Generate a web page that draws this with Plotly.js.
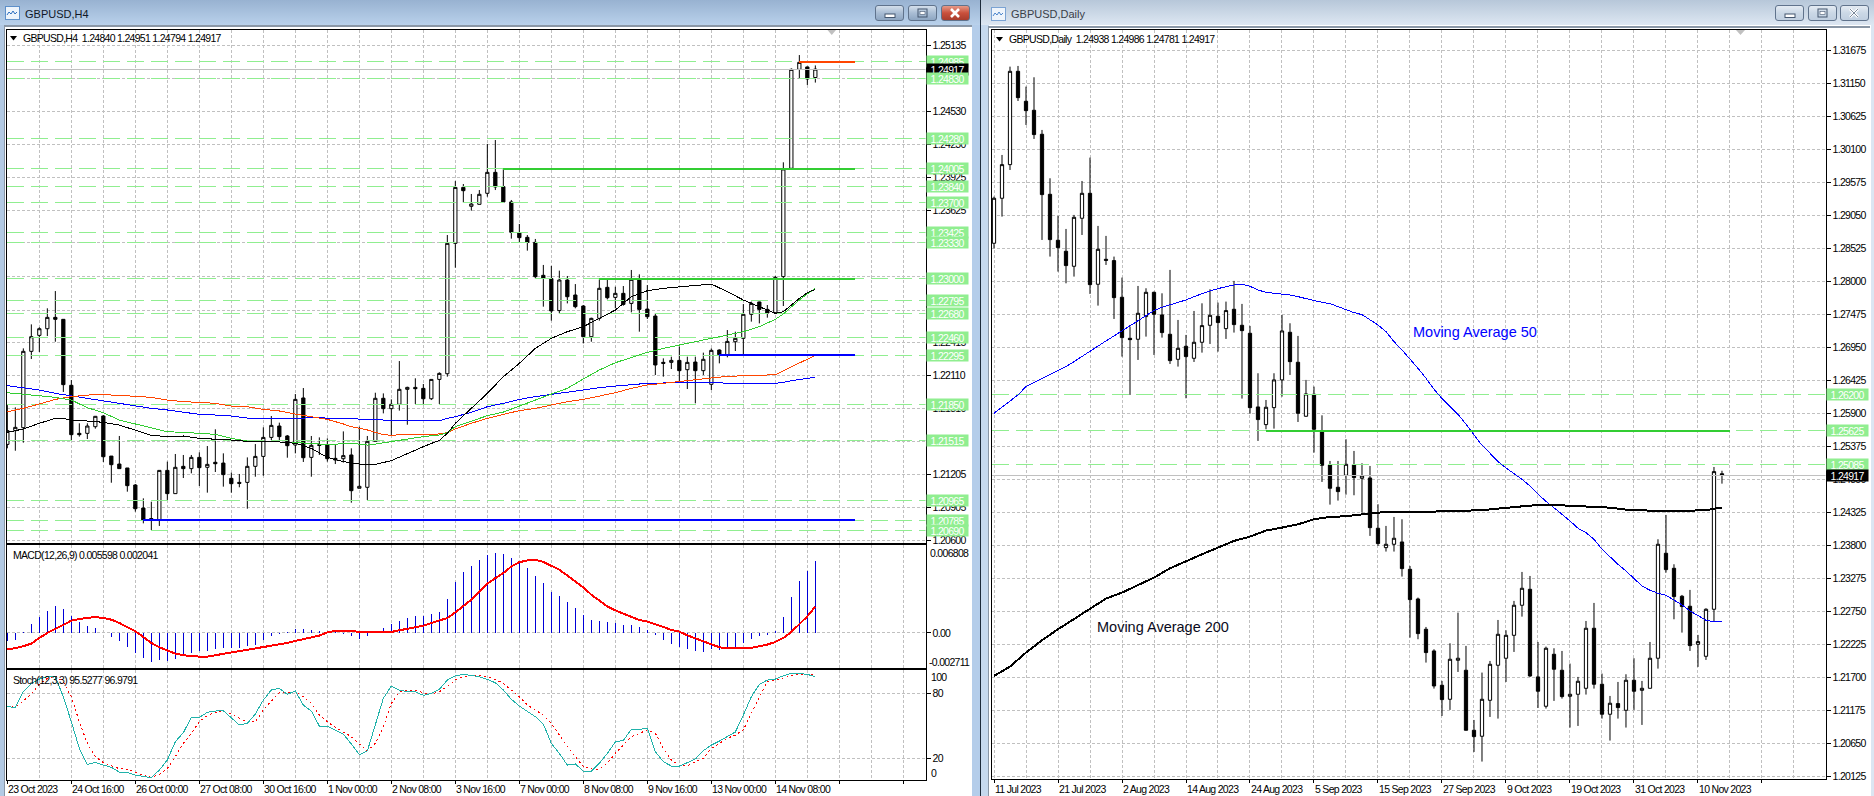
<!DOCTYPE html>
<html><head><meta charset="utf-8">
<script src="https://cdn.plot.ly/plotly-3.0.1.min.js"></script>
<style>
html,body{margin:0;padding:0;background:#fff;width:1874px;height:796px;overflow:hidden}
.c{position:absolute}
#plot{position:absolute;left:0;top:0;width:1874px;height:796px}
#plot .js-line{shape-rendering:crispEdges}
text[style*="font-size: 10.5px"]{letter-spacing:-0.7px}
.btn{position:absolute;top:5px;width:29px;height:16px;border:1px solid #60738c;border-radius:3px;box-sizing:border-box;background:linear-gradient(#d4dfeb,#a9bdd4 50%,#8ea6c2)}
.btn.x{background:linear-gradient(#e69a88,#c9503c 50%,#a83c2c)}
.btn.pale{background:linear-gradient(#e4ebf3,#cbd8e6 50%,#c0cfe0)}
.btn svg{position:absolute;left:0;top:0}
</style></head><body>
<div class="c" style="left:0;top:0;width:980px;height:25px;background:linear-gradient(#98b2d1,#b9d1eb)"></div>
<div class="c" style="left:980px;top:0;width:1px;height:796px;background:#1c2a3a"></div>
<div class="c" style="left:981px;top:0;width:893px;height:25px;background:linear-gradient(#b7c7d9,#dde7f2)"></div>
<div class="c" style="left:0;top:25px;width:972px;height:2px;background:#8a97a6"></div>
<div class="c" style="left:989px;top:26px;width:881px;height:2px;background:#8a97a6"></div>
<div class="c" style="left:0;top:25px;width:4px;height:771px;background:#b3cae4"></div>
<div class="c" style="left:4px;top:25px;width:1px;height:771px;background:#8a97a6"></div>
<div class="c" style="left:972px;top:25px;width:8px;height:771px;background:#b4cdea"></div>
<div class="c" style="left:981px;top:25px;width:8px;height:771px;background:#c6d9ee"></div>
<div class="c" style="left:988px;top:26px;width:1px;height:770px;background:#8a97a6"></div>
<div class="c" style="left:1871px;top:25px;width:3px;height:771px;background:#dbe6f2"></div>
<svg class="c" style="left:5px;top:6px" width="15" height="14"><rect x=".5" y=".5" width="14" height="13" fill="#eef4fb" stroke="#5d8fc9"/><path d="M2 9l2-3 2 2 2-3 2 3 2-2" stroke="#2d6fc0" fill="none"/></svg>
<svg class="c" style="left:991px;top:7px" width="15" height="14"><rect x=".5" y=".5" width="14" height="13" fill="#eef4fb" stroke="#7ba3d3"/><path d="M2 9l2-3 2 2 2-3 2 3 2-2" stroke="#4d86cc" fill="none"/></svg>
<div class="btn" style="left:875px"><svg width="27" height="14"><rect x="9" y="8" width="10" height="3.5" fill="#fff" stroke="#44566e"/></svg></div>
<div class="btn" style="left:908px"><svg width="27" height="14"><rect x="9" y="3" width="9" height="8" fill="none" stroke="#44566e"/><rect x="11" y="5.5" width="5" height="3" fill="#fff" stroke="#44566e" stroke-width=".6"/></svg></div>
<div class="btn x" style="left:941px"><svg width="27" height="14"><path d="M9 3l8 8M17 3l-8 8" stroke="#fff" stroke-width="2.6"/></svg></div>
<div class="btn pale" style="left:1775px"><svg width="27" height="14"><rect x="9" y="8" width="10" height="3.5" fill="#fff" stroke="#44566e"/></svg></div>
<div class="btn pale" style="left:1808px"><svg width="27" height="14"><rect x="9" y="3" width="9" height="8" fill="none" stroke="#44566e"/><rect x="11" y="5.5" width="5" height="3" fill="#fff" stroke="#44566e" stroke-width=".6"/></svg></div>
<div class="btn pale" style="left:1840px"><svg width="27" height="14"><path d="M9 3l8 8M17 3l-8 8" stroke="#fff" stroke-width="2.6"/><path d="M9 3l8 8M17 3l-8 8" stroke="#44566e" stroke-width=".7"/></svg></div>
<div id="plot"></div>
<script>
// ---------- H4 candles ----------
const h4Open=[1.21481,1.21607,1.21634,1.22333,1.22479,1.22540,1.22644,1.22626,1.22022,1.21582,
1.21582,1.21643,1.21741,1.21374,1.21301,1.21265,1.21109,1.20898,1.20795,1.20789,
1.21243,1.21030,1.21280,1.21259,1.21362,1.21271,1.21317,1.21310,1.21170,1.21133,
1.21133,1.21280,1.21371,1.21545,1.21649,1.21558,1.21475,1.21906,1.21362,1.21478,
1.21475,1.21353,1.21350,1.21384,1.21079,1.21088,1.21509,1.21903,1.21808,1.21848,
1.21985,1.22003,1.21994,1.21899,1.22076,1.22128,1.23322,1.23834,1.23661,1.23679,
1.23780,1.23972,1.23841,1.23701,1.23417,1.23377,1.23331,1.23029,1.22999,1.22706,
1.22986,1.22849,1.22748,1.22467,1.22635,1.22919,1.22827,1.22864,1.22772,1.22986,
1.22720,1.22656,1.22232,1.22232,1.22250,1.22165,1.22235,1.22156,1.22031,1.22345,
1.22302,1.22421,1.22452,1.22672,1.22785,1.22717,1.22687,1.23017,1.24009,1.24915,
1.24937,1.24840];
const h4High=[1.21841,1.21820,1.22360,1.22580,1.22553,1.22727,1.22885,1.22629,1.22070,1.21674,
1.21674,1.21741,1.21750,1.21374,1.21558,1.21265,1.21118,1.20987,1.20956,1.21243,
1.21323,1.21393,1.21384,1.21384,1.21408,1.21466,1.21619,1.21399,1.21222,1.21210,
1.21362,1.21484,1.21637,1.21741,1.21680,1.21567,1.21942,1.21997,1.21558,1.21545,
1.21536,1.21475,1.21600,1.21445,1.21643,1.21558,1.21954,1.21948,1.21893,1.22244,
1.22009,1.22086,1.22034,1.22076,1.22141,1.23398,1.23892,1.23865,1.23774,1.23810,
1.24232,1.24268,1.24003,1.23719,1.23499,1.23398,1.23362,1.23124,1.23115,1.23072,
1.23023,1.22949,1.22757,1.22641,1.22992,1.22986,1.22925,1.22931,1.23078,1.23038,
1.22940,1.22681,1.22269,1.22284,1.22376,1.22284,1.22284,1.22321,1.22360,1.22351,
1.22528,1.22513,1.22766,1.22788,1.22788,1.22757,1.23023,1.24064,1.24924,1.25046,
1.24940,1.24951];
const h4Low=[1.21445,1.21423,1.21497,1.22263,1.22327,1.22473,1.22421,1.21961,1.21521,1.21552,
1.21530,1.21625,1.21320,1.21130,1.21259,1.21048,1.20865,1.20758,1.20697,1.20734,
1.20972,1.21030,1.21173,1.21216,1.21100,1.21039,1.21228,1.21094,1.21039,1.21088,
1.20892,1.21185,1.21194,1.21521,1.21506,1.21359,1.21399,1.21320,1.21185,1.21384,
1.21323,1.21301,1.21314,1.20947,1.21079,1.20972,1.21509,1.21765,1.21567,1.21790,
1.21661,1.21851,1.21841,1.21887,1.21851,1.22101,1.23099,1.23697,1.23621,1.23679,
1.23749,1.23810,1.23701,1.23365,1.23334,1.23255,1.23002,1.22742,1.22614,1.22681,
1.22772,1.22727,1.22406,1.22421,1.22614,1.22809,1.22727,1.22751,1.22690,1.22513,
1.22629,1.22116,1.22101,1.22171,1.22055,1.21988,1.21857,1.22116,1.21979,1.22223,
1.22278,1.22336,1.22308,1.22605,1.22589,1.22641,1.22681,1.22748,1.24009,1.24827,
1.24772,1.24794];
const h4Close=[1.21607,1.21637,1.22333,1.22467,1.22540,1.22644,1.22626,1.22028,1.21570,1.21570,
1.21649,1.21738,1.21368,1.21295,1.21259,1.21103,1.20892,1.20789,1.20801,1.21243,
1.21030,1.21271,1.21259,1.21362,1.21268,1.21298,1.21304,1.21204,1.21121,1.21124,
1.21280,1.21371,1.21545,1.21655,1.21552,1.21469,1.21893,1.21359,1.21472,1.21472,
1.21350,1.21338,1.21378,1.21057,1.21097,1.21509,1.21903,1.21808,1.21848,1.21985,
1.22003,1.21991,1.21899,1.22076,1.22131,1.23322,1.23834,1.23804,1.23682,1.23771,
1.23972,1.23838,1.23701,1.23423,1.23374,1.23331,1.23017,1.23002,1.22703,1.22986,
1.22833,1.22742,1.22467,1.22635,1.22910,1.22824,1.22864,1.22763,1.22992,1.22717,
1.22650,1.22208,1.22223,1.22250,1.22156,1.22232,1.22156,1.22260,1.22342,1.22302,
1.22424,1.22452,1.22672,1.22772,1.22717,1.22684,1.23010,1.24003,1.24915,1.24979,
1.24827,1.24917];
// ---------- H4 moving averages, read at the listed bars ----------
const h4MaBlackBars=[0,2,4,6,7,8,10,12,14,16,18,20,22,24,26,28,30,32,34,36,38,40,42,44,46,48,50,52,54,55,56,58,60,62,64,66,68,70,72,74,76,78,80,82,84,86,88,90,92,94,96,97,98,99,100,101];
const h4MaBlack=[1.21591,1.21622,1.21674,1.21719,1.21719,1.21704,1.21695,1.21683,1.21658,1.21613,1.21564,1.21552,1.21558,1.21536,1.21530,1.21521,1.21509,1.21506,1.21503,1.21491,1.21445,1.21362,1.21323,1.21301,1.21298,1.21332,1.21399,1.21460,1.21518,1.21582,1.21674,1.21811,1.21948,1.22101,1.22223,1.22360,1.22452,1.22513,1.22559,1.22635,1.22711,1.22833,1.22888,1.22910,1.22925,1.22940,1.22949,1.22879,1.22803,1.22742,1.22681,1.22696,1.22757,1.22818,1.22870,1.22901];
const h4MaGreenBars=[0,4,6,8,9,10,12,14,16,18,20,22,24,26,28,30,32,34,36,38,40,42,44,45,46,48,50,52,54,55,56,58,60,62,64,66,68,70,72,74,76,78,80,82,84,86,88,90,92,94,96,97,98,99,100,101];
const h4MaGreen=[1.21954,1.21924,1.21912,1.21887,1.21851,1.21817,1.21771,1.21704,1.21668,1.21634,1.21597,1.21591,1.21585,1.21573,1.21536,1.21512,1.21509,1.21503,1.21497,1.21491,1.21478,1.21488,1.21484,1.21475,1.21484,1.21509,1.21527,1.21552,1.21567,1.21588,1.21643,1.21692,1.21744,1.21777,1.21835,1.21887,1.21942,1.21994,1.22080,1.22162,1.22229,1.22278,1.22324,1.22360,1.22391,1.22427,1.22452,1.22482,1.22513,1.22559,1.22626,1.22675,1.22742,1.22803,1.22858,1.22910];
const h4MaRedBars=[0,2,4,6,8,10,11,14,16,18,20,22,24,26,28,30,32,34,36,38,40,42,43,45,46,47,48,50,52,53,55,56,58,60,62,64,66,68,70,72,74,76,78,80,82,84,86,88,90,92,94,96,97,98,100,101];
const h4MaRed=[1.21780,1.21811,1.21851,1.21893,1.21918,1.21933,1.21939,1.21930,1.21918,1.21912,1.21887,1.21872,1.21866,1.21857,1.21832,1.21826,1.21802,1.21787,1.21759,1.21735,1.21710,1.21668,1.21643,1.21613,1.21591,1.21570,1.21564,1.21573,1.21573,1.21567,1.21588,1.21622,1.21674,1.21719,1.21756,1.21790,1.21811,1.21841,1.21872,1.21893,1.21924,1.21954,1.21994,1.22025,1.22040,1.22058,1.22070,1.22089,1.22104,1.22110,1.22110,1.22119,1.22156,1.22192,1.22263,1.22296];
const h4MaBlueBars=[0,2,4,6,8,10,12,14,16,18,20,22,24,26,28,30,32,34,36,38,40,42,44,46,47,49,52,54,55,56,58,60,62,64,66,68,70,72,74,76,78,80,82,84,86,88,90,92,94,96,97,98,100,101];
const h4MaBlue=[1.22019,1.21997,1.21979,1.21948,1.21924,1.21906,1.21881,1.21857,1.21832,1.21811,1.21796,1.21777,1.21756,1.21750,1.21741,1.21722,1.21719,1.21719,1.21719,1.21725,1.21725,1.21719,1.21713,1.21707,1.21698,1.21698,1.21698,1.21698,1.21719,1.21735,1.21774,1.21826,1.21857,1.21893,1.21918,1.21939,1.21964,1.21985,1.22000,1.22015,1.22025,1.22040,1.22043,1.22049,1.22049,1.22052,1.22040,1.22040,1.22040,1.22040,1.22049,1.22064,1.22086,1.22095];
// ---------- H4 indicators ----------
const macdHist=[-0.000643,-0.000515,0.000103,0.000720,0.001261,0.001724,0.002110,0.001878,0.001338,0.000875,
0.000566,0.000412,0.000026,-0.000334,-0.000643,-0.001055,-0.001518,-0.001904,-0.002213,-0.002058,
-0.002136,-0.001981,-0.001750,-0.001544,-0.001389,-0.001364,-0.001235,-0.001132,-0.001184,-0.001132,
-0.001029,-0.000926,-0.000515,-0.000206,-0.000051,0.000051,0.000334,0.000283,0.000257,0.000180,
0.000103,0.000051,-0.000103,-0.000206,-0.000437,-0.000257,0.000051,0.000412,0.000669,0.000952,
0.001184,0.001338,0.001338,0.001492,0.001647,0.002650,0.003937,0.004734,0.005197,0.005661,
0.006047,0.006201,0.006124,0.005815,0.005506,0.005043,0.004426,0.003860,0.003191,0.002882,
0.002419,0.001955,0.001415,0.001029,0.000952,0.000875,0.000798,0.000643,0.000643,0.000489,
0.000257,-0.000129,-0.000515,-0.000823,-0.001055,-0.001209,-0.001364,-0.001441,-0.001235,-0.001287,
-0.001132,-0.001055,-0.000746,-0.000437,-0.000206,-0.000129,0.000180,0.001261,0.002805,0.004040,
0.004812,0.005598];
const macdSignal=[-0.001261,-0.001184,-0.001029,-0.000823,-0.000386,0,0.000309,0.000643,0.000952,0.001081,
0.001184,0.001235,0.001158,0.001029,0.000772,0.000463,0.000129,-0.000309,-0.000772,-0.001106,
-0.001364,-0.001595,-0.001724,-0.001801,-0.001827,-0.001827,-0.001724,-0.001621,-0.001492,-0.001364,
-0.001312,-0.001184,-0.001106,-0.000978,-0.000901,-0.000772,-0.000618,-0.000489,-0.000360,-0.000206,
0.000051,0.000154,0.000180,0.000129,0.000077,0.000051,0.000051,0.000051,0.000077,0.000206,
0.000309,0.000437,0.000566,0.000772,0.000952,0.001158,0.001595,0.002058,0.002573,0.003216,
0.003808,0.004245,0.004631,0.005146,0.005480,0.005609,0.005661,0.005506,0.005223,0.004889,
0.004451,0.003988,0.003525,0.002959,0.002522,0.002058,0.001750,0.001492,0.001235,0.001003,
0.000875,0.000695,0.000463,0.000232,0.000103,-0.000180,-0.000412,-0.000643,-0.000849,-0.001106,
-0.001184,-0.001184,-0.001184,-0.001158,-0.001029,-0.000901,-0.000695,-0.000386,0.000077,0.000643,
0.001287,0.002041];
const stochMain=[67.7,67.1,81.5,89.2,93.2,95.4,95.4,76.9,53.8,29.2,14.5,16.3,13.8,11.7,7.4,7.1,4.6,3.1,2.2,9.2,
18.5,35.4,43.7,57.8,57.8,62.5,63.7,64.0,57.5,50.8,52.3,60.9,73.8,83.1,84.6,79.1,82.2,69.2,63.7,49.8,
49.8,46.2,42.5,33.2,23.4,26.8,52.3,75.4,86.8,83.1,81.5,81.5,78.2,80.0,83.7,92.3,96.3,97.5,96.6,95.4,
92.9,89.8,83.1,74.5,68.3,63.7,58.5,51.7,33.8,24.6,13.8,14.8,8.3,8.3,15.4,24.6,35.1,36.6,46.8,46.8,
47.7,26.2,16.9,12.9,12.9,16.0,19.4,27.1,32.3,36.0,40.0,44.3,60.0,76.9,88.3,92.3,93.2,96.3,98.5,98.5,97.5,95.53];
const stochSignal=[68.3,67.1,72.9,79.4,88.6,93.8,96.0,90.8,76.9,53.8,33.8,21.5,16.0,13.5,10.5,9.8,6.8,4.3,2.5,5.2,
10.8,21.5,33.8,43.1,53.8,59.4,62.5,63.4,60.9,56.9,53.2,53.8,64.6,72.9,80.6,80.9,81.5,76.9,70.8,60.0,
53.8,48.6,44.6,40.0,33.2,27.1,33.8,49.2,70.8,81.5,83.1,82.5,80.6,79.4,81.5,86.2,92.3,95.4,96.9,96.6,
95.4,92.9,89.2,83.1,76.9,69.2,64.6,60.0,52.3,41.5,30.8,21.5,12.3,10.2,9.8,15.4,24.6,32.3,40.0,43.1,
46.2,43.1,29.2,18.5,13.8,13.2,16.9,20.0,29.2,33.8,38.5,41.5,46.2,61.5,76.9,90.8,92.3,94.5,96.3,97.8,97.5,96.98];
// ---------- Daily candles ----------
const dOpen=[1.28605,1.29321,1.29856,1.31341,1.30864,1.30721,1.30339,1.29384,1.28653,1.28478,
1.28239,1.29003,1.29400,1.27953,1.28350,1.28329,1.27746,1.27093,1.27078,1.27438,
1.27825,1.27465,1.27157,1.26759,1.26966,1.26775,1.27030,1.27300,1.27443,1.27247,
1.27555,1.27300,1.27173,1.26001,1.25720,1.25990,1.26431,1.27189,1.26712,1.25853,
1.26203,1.25609,1.25078,1.24723,1.24914,1.25084,1.24866,1.24871,1.24071,1.23763,
1.23816,1.23853,1.23418,1.22946,1.22464,1.22119,1.21573,1.21350,1.21971,1.21812,
1.20857,1.20762,1.21334,1.21891,1.22003,1.22368,1.22846,1.23100,1.21706,1.21239,
1.22066,1.21812,1.21398,1.21430,1.21525,1.22480,1.21589,1.21112,1.21281,1.21175,
1.21653,1.21493,1.21525,1.22003,1.23673,1.23434,1.22989,1.22830,1.22225,1.22034,
1.22782,1.24938];
const dHigh=[1.29347,1.30010,1.31415,1.31426,1.31097,1.31246,1.30408,1.29639,1.29040,1.28833,
1.29056,1.29596,1.29968,1.28881,1.28722,1.28393,1.28059,1.27279,1.27926,1.27889,
1.27836,1.27809,1.28181,1.27385,1.27147,1.27528,1.27650,1.27873,1.27661,1.27677,
1.28006,1.27640,1.27290,1.26537,1.26112,1.26537,1.27465,1.27332,1.27131,1.26431,
1.26325,1.25868,1.25142,1.25142,1.25487,1.25301,1.25105,1.25062,1.24453,1.24108,
1.24251,1.24214,1.23471,1.22968,1.22501,1.22146,1.21642,1.22241,1.22729,1.22199,
1.21021,1.21775,1.21960,1.22612,1.22448,1.22915,1.23376,1.23312,1.22262,1.22188,
1.22162,1.22119,1.21918,1.21706,1.22596,1.22883,1.21759,1.21403,1.21626,1.21748,
1.22003,1.21642,1.22262,1.23896,1.24283,1.23498,1.23010,1.23090,1.22374,1.22798,
1.25046,1.24986];
const dLow=[1.28525,1.29029,1.29771,1.30869,1.30487,1.30265,1.28658,1.28393,1.28154,1.27968,
1.28075,1.28737,1.27799,1.27613,1.28260,1.27401,1.26802,1.26192,1.26749,1.27120,
1.26828,1.27104,1.26685,1.26643,1.26139,1.26717,1.26865,1.27003,1.26881,1.27083,
1.27184,1.26134,1.25895,1.25460,1.25646,1.25656,1.26165,1.26510,1.25762,1.25847,
1.25275,1.24808,1.24447,1.24511,1.24606,1.24596,1.24320,1.23949,1.23790,1.23700,
1.23700,1.23302,1.22331,1.22305,1.21934,1.21520,1.21085,1.21181,1.21785,1.20857,
1.20512,1.20359,1.21069,1.21043,1.21626,1.22103,1.22665,1.21706,1.21212,1.21202,
1.21324,1.21361,1.20900,1.20926,1.21425,1.21520,1.21043,1.20693,1.21043,1.20900,
1.21181,1.20942,1.21525,1.21838,1.23365,1.22623,1.22411,1.22119,1.21865,1.21976,
1.22586,1.24781];
const dClose=[1.29321,1.29856,1.31341,1.30922,1.30715,1.30334,1.29379,1.28663,1.28536,1.28250,
1.29018,1.29400,1.27947,1.28509,1.28334,1.27740,1.27104,1.27072,1.27491,1.27825,
1.27475,1.27184,1.26738,1.26934,1.26802,1.27030,1.27295,1.27459,1.27343,1.27534,
1.27311,1.27215,1.25990,1.25800,1.25996,1.26431,1.27210,1.26722,1.25900,1.26208,
1.25646,1.25073,1.24707,1.24654,1.25089,1.24877,1.24903,1.24081,1.23827,1.23816,
1.23912,1.23429,1.22936,1.22395,1.22093,1.21562,1.21345,1.21987,1.22003,1.20857,
1.20756,1.21350,1.21907,1.22384,1.22368,1.22846,1.23116,1.21721,1.21478,1.22162,
1.21828,1.21393,1.21430,1.21637,1.22480,1.21589,1.21112,1.21287,1.21218,1.21653,
1.21478,1.21525,1.22003,1.23816,1.23413,1.22984,1.22825,1.22204,1.22268,1.22782,
1.24972,1.24917];
const dMa50=[1.25900,1.25996,1.26086,1.26192,1.26325,1.26388,1.26446,1.26521,1.26579,1.26643,
1.26722,1.26807,1.26892,1.26971,1.27051,1.27131,1.27210,1.27290,1.27375,1.27459,
1.27534,1.27587,1.27624,1.27661,1.27703,1.27756,1.27804,1.27846,1.27884,1.27915,
1.27942,1.27953,1.27921,1.27862,1.27825,1.27809,1.27799,1.27783,1.27756,1.27719,
1.27693,1.27666,1.27645,1.27597,1.27544,1.27502,1.27470,1.27385,1.27306,1.27200,
1.27040,1.26908,1.26770,1.26616,1.26457,1.26282,1.26134,1.26017,1.25884,1.25725,
1.25566,1.25391,1.25264,1.25131,1.25031,1.24940,1.24850,1.24744,1.24612,1.24500,
1.24389,1.24293,1.24187,1.24071,1.24002,1.23896,1.23737,1.23615,1.23498,1.23392,
1.23270,1.23153,1.23084,1.23037,1.23005,1.22931,1.22851,1.22756,1.22676,1.22607,
1.22586,1.22586];
const dMa200Bars=[0,2,4,6,8,10,12,14,16,18,20,22,24,26,28,30,32,34,36,38,40,42,44,46,48,50,52,55,57,59,61,63,65,67,69,71,73,75,77,79,81,83,85,87,89,90,91];
const dMa200=[1.21721,1.21870,1.22093,1.22289,1.22464,1.22623,1.22782,1.22952,1.23047,1.23164,1.23286,1.23434,1.23551,1.23657,1.23763,1.23869,1.23938,1.24034,1.24081,1.24134,1.24214,1.24251,1.24262,1.24293,1.24320,1.24331,1.24331,1.24336,1.24346,1.24352,1.24357,1.24384,1.24410,1.24431,1.24447,1.24437,1.24431,1.24421,1.24399,1.24368,1.24352,1.24346,1.24346,1.24346,1.24357,1.24384,1.24394];
// ---------- axis text and levels ----------
const h4Ticks=[1.25135,1.24830,1.24530,1.24230,1.23925,1.23625,1.23330,1.23020,1.22705,1.22415,1.22110,1.21810,1.21505,1.21205,1.20905,1.20600];
const h4TickText=['1.25135','','1.24530','1.24230','1.23925','1.23625','','','','1.22415','1.22110','1.21810','','1.21205','1.20905','1.20600'];
const h4Levels=[1.24985,1.24830,1.24280,1.24005,1.23840,1.23700,1.23425,1.23330,1.23000,1.22795,1.22680,1.22460,1.22295,1.21850,1.21515,1.20965,1.20785,1.20690];
const h4LevelText=['1.24985','1.24830','1.24280','1.24005','1.23840','1.23700','1.23425','1.23330','1.23000','1.22795','1.22680','1.22460','1.22295','1.21850','1.21515','1.20965','1.20785','1.20690'];
const h4Dates=['23 Oct 2023','24 Oct 16:00','26 Oct 00:00','27 Oct 08:00','30 Oct 16:00','1 Nov 00:00','2 Nov 08:00','3 Nov 16:00','7 Nov 00:00','8 Nov 08:00','9 Nov 16:00','13 Nov 00:00','14 Nov 08:00'];
const dTicks=[1.31675,1.31150,1.30625,1.30100,1.29575,1.29050,1.28525,1.28000,1.27475,1.26950,1.26425,1.25900,1.25375,1.24850,1.24325,1.23800,1.23275,1.22750,1.22225,1.21700,1.21175,1.20650,1.20125];
const dTickText=['1.31675','1.31150','1.30625','1.30100','1.29575','1.29050','1.28525','1.28000','1.27475','1.26950','1.26425','1.25900','1.25375','1.24850','1.24325','1.23800','1.23275','1.22750','1.22225','1.21700','1.21175','1.20650','1.20125'];
const dLevels=[1.26200,1.25625,1.25085];
const dLevelText=['1.26200','1.25625','1.25085'];
const dDates=['11 Jul 2023','21 Jul 2023','2 Aug 2023','14 Aug 2023','24 Aug 2023','5 Sep 2023','15 Sep 2023','27 Sep 2023','9 Oct 2023','19 Oct 2023','31 Oct 2023','10 Nov 2023'];
const bid=1.24917, bidText='1.24917';
const h4Thick=[{p:1.24005,a:62,b:106,c:'#32cd32'},{p:1.23000,a:74,b:106,c:'#32cd32'},{p:1.24985,a:99,b:106,c:'#ff4500'},{p:1.22295,a:89,b:106,c:'#0000ff'},{p:1.20785,a:17,b:106,c:'#0000ff'}];
const dThick=[{p:1.25625,a:34,b:92,c:'#32cd32'}];

// ---------- layout helpers ----------
const W=1874,H=796;
const UI='"Liberation Sans",sans-serif', UISIZE=10.5;
const px=x=>x/W, py=y=>1-y/H;
const seq=n=>Array.from({length:n},(_,i)=>i);
const GRID='#c0c0c0', GD='3px,2px';
const xr1=[-0.104,114.77], xr2=[-0.25,103.94];
function xAxis(l,r,range,anchor,vals,minorVals,ticks){
  return {type:'linear',domain:[px(l),px(r)],range,anchor,showline:true,mirror:true,linecolor:'#000',linewidth:1,zeroline:false,
    tickmode:'array',tickvals:vals,ticktext:vals.map(()=>''),ticks:ticks?'outside':'',ticklen:3,tickcolor:'#000',
    showgrid:true,gridcolor:GRID,griddash:GD,gridwidth:1,
    minor:{tickmode:'array',tickvals:minorVals,ticks:'',showgrid:true,gridcolor:GRID,griddash:GD,gridwidth:1},
    rangeslider:{visible:false},fixedrange:true};
}
function yAxis(t,b,range,anchor,vals,text){
  return {type:'linear',domain:[py(b),py(t)],range,anchor,side:'right',showline:true,mirror:true,linecolor:'#000',linewidth:1,zeroline:false,
    tickmode:'array',tickvals:vals,ticktext:text,ticks:'outside',ticklen:4,tickcolor:'#000',
    tickfont:{family:UI,size:UISIZE,color:'#000'},showgrid:true,gridcolor:GRID,griddash:GD,gridwidth:1,fixedrange:true};
}
const eights=n=>seq(n).map(i=>i*8);
function oddFours(max){const o=[];for(let v=4;v<=max;v+=8)o.push(v);return o;}
const h4Major=eights(15), h4Minor=oddFours(112);
const dMajor=eights(13), dMinor=oddFours(100);

function levelTrace(levels,r,xa,ya){
  const x=[],y=[];levels.forEach(v=>{x.push(r[0],r[1],null);y.push(v,v,null);});
  return {type:'scatter',mode:'lines',x,y,xaxis:xa,yaxis:ya,hoverinfo:'skip',line:{color:'#90ee90',width:1,dash:'17px,7px'}};
}
const bidTrace=(r,xa,ya)=>({type:'scatter',mode:'lines',x:r,y:[bid,bid],xaxis:xa,yaxis:ya,hoverinfo:'skip',line:{color:'#c0c0c0',width:1}});
const candle=(xs,o,h,l,c,xa,ya)=>({type:'candlestick',x:xs,open:o,high:h,low:l,close:c,xaxis:xa,yaxis:ya,hoverinfo:'skip',whiskerwidth:0,line:{width:1},
  increasing:{line:{color:'#000',width:1},fillcolor:'#ffffff'},decreasing:{line:{color:'#000',width:1},fillcolor:'#000000'}});
const line=(x,y,xa,ya,color,width,dash)=>({type:'scatter',mode:'lines',x,y,xaxis:xa,yaxis:ya,hoverinfo:'skip',line:{color,width,dash:dash||'solid'}});
const thick=(t,xa,ya)=>line([t.a,t.b],[t.p,t.p],xa,ya,t.c,2);

const traces=[
  bidTrace(xr1,'x','y'),
  levelTrace(h4Levels,xr1,'x','y'),
  candle(seq(h4Open.length),h4Open,h4High,h4Low,h4Close,'x','y'),
  line(h4MaBlueBars,h4MaBlue,'x','y','#0000ff',1),
  line(h4MaRedBars,h4MaRed,'x','y','#ff4500',1),
  line(h4MaGreenBars,h4MaGreen,'x','y','#32cd32',1),
  line(h4MaBlackBars,h4MaBlack,'x','y','#000000',1),
  ...h4Thick.map(t=>thick(t,'x','y')),
  {type:'bar',x:seq(macdHist.length),y:macdHist,xaxis:'x2',yaxis:'y2',width:0.14,marker:{color:'#0000d8',line:{width:0}},hoverinfo:'skip'},
  line(seq(macdSignal.length),macdSignal,'x2','y2','#ff0000',2),
  line(seq(stochSignal.length),stochSignal,'x3','y3','#ff0000',1,'2px,3px'),
  line(seq(stochMain.length),stochMain,'x3','y3','#20b2aa',1),
  bidTrace(xr2,'x4','y4'),
  levelTrace(dLevels,xr2,'x4','y4'),
  candle(seq(dOpen.length),dOpen,dHigh,dLow,dClose,'x4','y4'),
  line(seq(dMa50.length),dMa50,'x4','y4','#0000ff',1),
  line(dMa200Bars,dMa200,'x4','y4','#000000',2),
  ...dThick.map(t=>thick(t,'x4','y4'))
];

const ann=[];
const note=(x,y,text,o)=>ann.push(Object.assign({xref:'paper',yref:'paper',x:px(x),y:py(y),text,showarrow:false,xanchor:'left',yanchor:'middle',borderpad:0,font:{family:UI,size:UISIZE,color:'#000'}},o||{}));
const chip=(yref,price,label,cx,bg)=>ann.push({xref:'paper',yref,x:px(cx),y:price,text:label,showarrow:false,xanchor:'center',yanchor:'middle',width:41,height:11,borderpad:0,bgcolor:bg,font:{family:UI,size:UISIZE,color:'#fff'}});
// H4 price chips
chip('y',h4Levels[0],h4LevelText[0],947.5,'#90ee90');
chip('y',bid,bidText,947.5,'#000');
h4Levels.slice(1).forEach((v,i)=>chip('y',v,h4LevelText[i+1],947.5,'#90ee90'));
// Daily price chips
dLevels.forEach((v,i)=>chip('y4',v,dLevelText[i],1847.5,'#90ee90'));
chip('y4',bid,bidText,1847.5,'#000');
// titles
note(24,13.5,'GBPUSD,H4',{font:{family:UI,size:11,color:'#101828'}});
note(1010,14,'GBPUSD,Daily',{font:{family:UI,size:11,color:'#3a4048'}});
note(22,37.5,'GBPUSD,H4  1.24840 1.24951 1.24794 1.24917');
note(1008,38.5,'GBPUSD,Daily  1.24938 1.24986 1.24781 1.24917');
note(11.5,555,'MACD(12,26,9) 0.005598 0.002041');
note(11.5,679.5,'Stoch(12,3,3) 95.5277 96.9791');
// inset axis labels
note(929,552.5,'0.006808');
note(928,661.5,'-0.002711');
note(929.5,677,'100');
note(929.5,773,'0');
// date labels
h4Dates.forEach((t,i)=>ann.push({xref:'x3',yref:'paper',x:i*8,y:py(789.3),text:t,showarrow:false,xanchor:'left',yanchor:'middle',borderpad:0,font:{family:UI,size:UISIZE,color:'#000'}}));
dDates.forEach((t,i)=>ann.push({xref:'x4',yref:'paper',x:i*8,y:py(788.8),text:t,showarrow:false,xanchor:'left',yanchor:'middle',borderpad:0,font:{family:UI,size:UISIZE,color:'#000'}}));
// text objects on the daily chart
note(1412,332,'Moving Average 50',{font:{family:UI,size:14.5,color:'#0000ff'}});
note(1096,627,'Moving Average 200',{font:{family:UI,size:14.5,color:'#0a0a20'}});

const tri=(x1,x2,y1,y2,c)=>({type:'path',xref:'paper',yref:'paper',path:`M${px(x1)} ${py(y1)} L${px(x2)} ${py(y1)} L${px((x1+x2)/2)} ${py(y2)} Z`,fillcolor:c,line:{width:0}});
const shapes=[tri(10,17,36,40.5,'#000'),tri(996,1003,37,41.5,'#000'),tri(827.5,836,30,35,'#c0c0c0'),tri(1736,1745,30,35,'#c0c0c0')];

const layout={width:W,height:H,margin:{l:0,r:0,t:0,b:0,pad:0},autosize:false,paper_bgcolor:'rgba(0,0,0,0)',plot_bgcolor:'#fff',showlegend:false,hovermode:false,
  boxgap:0.42,bargap:0,dragmode:false,
  xaxis:xAxis(6.5,925.5,xr1,'y',[...h4Major],h4Minor,false),
  yaxis:yAxis(29.5,543,[1.20578,1.25280],'x',h4Ticks,h4TickText),
  xaxis2:xAxis(6.5,925.5,xr1,'y2',[...h4Major],h4Minor,false),
  yaxis2:yAxis(545,668,[-0.002711,0.006808],'x2',[0],['0.00']),
  xaxis3:xAxis(6.5,925.5,xr1,'y3',[...h4Major],h4Minor,true),
  yaxis3:yAxis(670.3,779.7,[0.3,101.3],'x3',[20,80],['20','80']),
  xaxis4:xAxis(992,1825.5,xr2,'y4',[...dMajor],dMinor,true),
  yaxis4:yAxis(30,779.3,[1.20077,1.31998],'x4',dTicks,dTickText),
  annotations:ann,shapes};
Plotly.newPlot('plot',traces,layout,{staticPlot:true,displayModeBar:false});
</script>
</body></html>
